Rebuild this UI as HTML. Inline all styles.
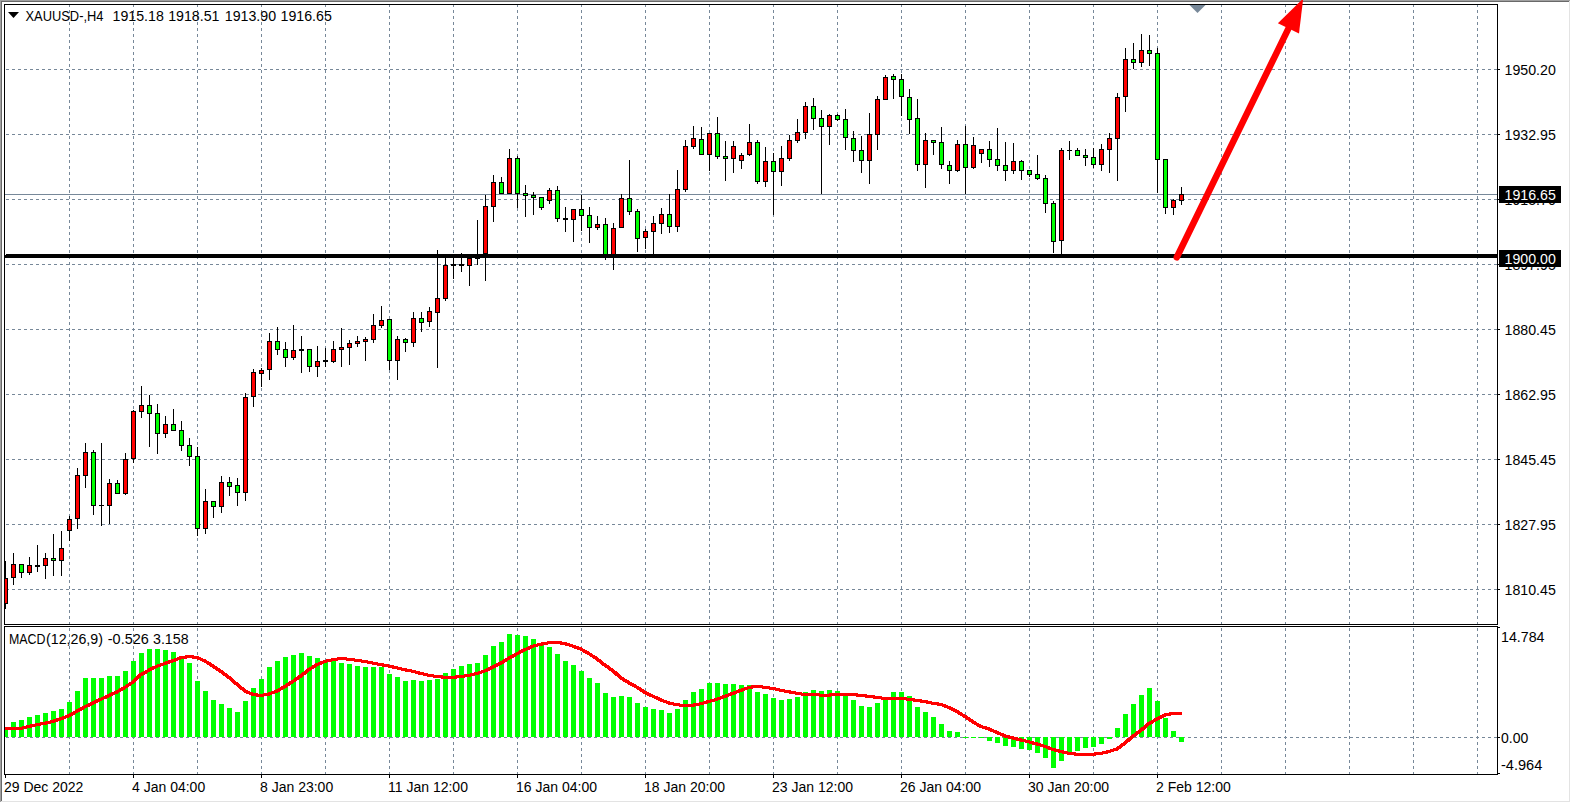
<!DOCTYPE html><html><head><meta charset="utf-8"><title>XAUUSD H4</title>
<style>html,body{margin:0;padding:0;background:#fff;overflow:hidden}svg{display:block}text{font-family:"Liberation Sans",sans-serif;}</style></head><body>
<svg width="1571" height="803" viewBox="0 0 1571 803">
<defs><clipPath id="cm"><rect x="5" y="5" width="1492" height="619"/></clipPath><clipPath id="cs"><rect x="5" y="627" width="1492" height="147"/></clipPath></defs>
<rect x="0" y="0" width="1571" height="803" fill="#fff"/>
<g shape-rendering="crispEdges" clip-path="url(#cm)">
<line x1="0" y1="69.5" x2="1497" y2="69.5" stroke="#778899" stroke-width="1" stroke-dasharray="3 3"/>
<line x1="0" y1="134.5" x2="1497" y2="134.5" stroke="#778899" stroke-width="1" stroke-dasharray="3 3"/>
<line x1="0" y1="199.5" x2="1497" y2="199.5" stroke="#778899" stroke-width="1" stroke-dasharray="3 3"/>
<line x1="0" y1="264.5" x2="1497" y2="264.5" stroke="#778899" stroke-width="1" stroke-dasharray="3 3"/>
<line x1="0" y1="329.5" x2="1497" y2="329.5" stroke="#778899" stroke-width="1" stroke-dasharray="3 3"/>
<line x1="0" y1="394.5" x2="1497" y2="394.5" stroke="#778899" stroke-width="1" stroke-dasharray="3 3"/>
<line x1="0" y1="459.5" x2="1497" y2="459.5" stroke="#778899" stroke-width="1" stroke-dasharray="3 3"/>
<line x1="0" y1="524.5" x2="1497" y2="524.5" stroke="#778899" stroke-width="1" stroke-dasharray="3 3"/>
<line x1="0" y1="589.5" x2="1497" y2="589.5" stroke="#778899" stroke-width="1" stroke-dasharray="3 3"/>
<line x1="69.5" y1="4" x2="69.5" y2="624" stroke="#778899" stroke-width="1" stroke-dasharray="3 3"/>
<line x1="133.5" y1="4" x2="133.5" y2="624" stroke="#778899" stroke-width="1" stroke-dasharray="3 3"/>
<line x1="197.5" y1="4" x2="197.5" y2="624" stroke="#778899" stroke-width="1" stroke-dasharray="3 3"/>
<line x1="261.5" y1="4" x2="261.5" y2="624" stroke="#778899" stroke-width="1" stroke-dasharray="3 3"/>
<line x1="325.5" y1="4" x2="325.5" y2="624" stroke="#778899" stroke-width="1" stroke-dasharray="3 3"/>
<line x1="389.5" y1="4" x2="389.5" y2="624" stroke="#778899" stroke-width="1" stroke-dasharray="3 3"/>
<line x1="453.5" y1="4" x2="453.5" y2="624" stroke="#778899" stroke-width="1" stroke-dasharray="3 3"/>
<line x1="517.5" y1="4" x2="517.5" y2="624" stroke="#778899" stroke-width="1" stroke-dasharray="3 3"/>
<line x1="581.5" y1="4" x2="581.5" y2="624" stroke="#778899" stroke-width="1" stroke-dasharray="3 3"/>
<line x1="645.5" y1="4" x2="645.5" y2="624" stroke="#778899" stroke-width="1" stroke-dasharray="3 3"/>
<line x1="709.5" y1="4" x2="709.5" y2="624" stroke="#778899" stroke-width="1" stroke-dasharray="3 3"/>
<line x1="773.5" y1="4" x2="773.5" y2="624" stroke="#778899" stroke-width="1" stroke-dasharray="3 3"/>
<line x1="837.5" y1="4" x2="837.5" y2="624" stroke="#778899" stroke-width="1" stroke-dasharray="3 3"/>
<line x1="901.5" y1="4" x2="901.5" y2="624" stroke="#778899" stroke-width="1" stroke-dasharray="3 3"/>
<line x1="965.5" y1="4" x2="965.5" y2="624" stroke="#778899" stroke-width="1" stroke-dasharray="3 3"/>
<line x1="1029.5" y1="4" x2="1029.5" y2="624" stroke="#778899" stroke-width="1" stroke-dasharray="3 3"/>
<line x1="1093.5" y1="4" x2="1093.5" y2="624" stroke="#778899" stroke-width="1" stroke-dasharray="3 3"/>
<line x1="1157.5" y1="4" x2="1157.5" y2="624" stroke="#778899" stroke-width="1" stroke-dasharray="3 3"/>
<line x1="1221.5" y1="4" x2="1221.5" y2="624" stroke="#778899" stroke-width="1" stroke-dasharray="3 3"/>
<line x1="1285.5" y1="4" x2="1285.5" y2="624" stroke="#778899" stroke-width="1" stroke-dasharray="3 3"/>
<line x1="1349.5" y1="4" x2="1349.5" y2="624" stroke="#778899" stroke-width="1" stroke-dasharray="3 3"/>
<line x1="1413.5" y1="4" x2="1413.5" y2="624" stroke="#778899" stroke-width="1" stroke-dasharray="3 3"/>
<line x1="1477.5" y1="4" x2="1477.5" y2="624" stroke="#778899" stroke-width="1" stroke-dasharray="3 3"/>
<rect x="5" y="194" width="1492" height="1" fill="#778899"/>
</g>
<g shape-rendering="crispEdges" clip-path="url(#cs)">
<line x1="0" y1="737.5" x2="1497" y2="737.5" stroke="#778899" stroke-width="1" stroke-dasharray="3 3"/>
<line x1="69.5" y1="4" x2="69.5" y2="774" stroke="#778899" stroke-width="1" stroke-dasharray="3 3"/>
<line x1="133.5" y1="4" x2="133.5" y2="774" stroke="#778899" stroke-width="1" stroke-dasharray="3 3"/>
<line x1="197.5" y1="4" x2="197.5" y2="774" stroke="#778899" stroke-width="1" stroke-dasharray="3 3"/>
<line x1="261.5" y1="4" x2="261.5" y2="774" stroke="#778899" stroke-width="1" stroke-dasharray="3 3"/>
<line x1="325.5" y1="4" x2="325.5" y2="774" stroke="#778899" stroke-width="1" stroke-dasharray="3 3"/>
<line x1="389.5" y1="4" x2="389.5" y2="774" stroke="#778899" stroke-width="1" stroke-dasharray="3 3"/>
<line x1="453.5" y1="4" x2="453.5" y2="774" stroke="#778899" stroke-width="1" stroke-dasharray="3 3"/>
<line x1="517.5" y1="4" x2="517.5" y2="774" stroke="#778899" stroke-width="1" stroke-dasharray="3 3"/>
<line x1="581.5" y1="4" x2="581.5" y2="774" stroke="#778899" stroke-width="1" stroke-dasharray="3 3"/>
<line x1="645.5" y1="4" x2="645.5" y2="774" stroke="#778899" stroke-width="1" stroke-dasharray="3 3"/>
<line x1="709.5" y1="4" x2="709.5" y2="774" stroke="#778899" stroke-width="1" stroke-dasharray="3 3"/>
<line x1="773.5" y1="4" x2="773.5" y2="774" stroke="#778899" stroke-width="1" stroke-dasharray="3 3"/>
<line x1="837.5" y1="4" x2="837.5" y2="774" stroke="#778899" stroke-width="1" stroke-dasharray="3 3"/>
<line x1="901.5" y1="4" x2="901.5" y2="774" stroke="#778899" stroke-width="1" stroke-dasharray="3 3"/>
<line x1="965.5" y1="4" x2="965.5" y2="774" stroke="#778899" stroke-width="1" stroke-dasharray="3 3"/>
<line x1="1029.5" y1="4" x2="1029.5" y2="774" stroke="#778899" stroke-width="1" stroke-dasharray="3 3"/>
<line x1="1093.5" y1="4" x2="1093.5" y2="774" stroke="#778899" stroke-width="1" stroke-dasharray="3 3"/>
<line x1="1157.5" y1="4" x2="1157.5" y2="774" stroke="#778899" stroke-width="1" stroke-dasharray="3 3"/>
<line x1="1221.5" y1="4" x2="1221.5" y2="774" stroke="#778899" stroke-width="1" stroke-dasharray="3 3"/>
<line x1="1285.5" y1="4" x2="1285.5" y2="774" stroke="#778899" stroke-width="1" stroke-dasharray="3 3"/>
<line x1="1349.5" y1="4" x2="1349.5" y2="774" stroke="#778899" stroke-width="1" stroke-dasharray="3 3"/>
<line x1="1413.5" y1="4" x2="1413.5" y2="774" stroke="#778899" stroke-width="1" stroke-dasharray="3 3"/>
<line x1="1477.5" y1="4" x2="1477.5" y2="774" stroke="#778899" stroke-width="1" stroke-dasharray="3 3"/>
</g>
<g shape-rendering="crispEdges" clip-path="url(#cm)">
<rect x="5" y="561" width="1" height="48" fill="#000"/>
<rect x="3" y="578" width="5" height="26" fill="#000"/>
<rect x="4" y="579" width="3" height="24" fill="#ff0000"/>
<rect x="13" y="553" width="1" height="32" fill="#000"/>
<rect x="11" y="564" width="5" height="14" fill="#000"/>
<rect x="12" y="565" width="3" height="12" fill="#ff0000"/>
<rect x="21" y="564" width="1" height="14" fill="#000"/>
<rect x="19" y="564" width="5" height="9" fill="#000"/>
<rect x="20" y="565" width="3" height="7" fill="#00ff00"/>
<rect x="29" y="557" width="1" height="18" fill="#000"/>
<rect x="27" y="565" width="5" height="8" fill="#000"/>
<rect x="28" y="566" width="3" height="6" fill="#ff0000"/>
<rect x="37" y="545" width="1" height="27" fill="#000"/>
<rect x="35" y="565" width="5" height="2" fill="#000"/>
<rect x="45" y="553" width="1" height="26" fill="#000"/>
<rect x="43" y="558" width="5" height="8" fill="#000"/>
<rect x="44" y="559" width="3" height="6" fill="#ff0000"/>
<rect x="53" y="534" width="1" height="42" fill="#000"/>
<rect x="51" y="558" width="5" height="3" fill="#000"/>
<rect x="52" y="559" width="3" height="1" fill="#00ff00"/>
<rect x="61" y="531" width="1" height="45" fill="#000"/>
<rect x="59" y="548" width="5" height="13" fill="#000"/>
<rect x="60" y="549" width="3" height="11" fill="#ff0000"/>
<rect x="69" y="516" width="1" height="25" fill="#000"/>
<rect x="67" y="519" width="5" height="12" fill="#000"/>
<rect x="68" y="520" width="3" height="10" fill="#ff0000"/>
<rect x="77" y="468" width="1" height="61" fill="#000"/>
<rect x="75" y="475" width="5" height="44" fill="#000"/>
<rect x="76" y="476" width="3" height="42" fill="#ff0000"/>
<rect x="85" y="443" width="1" height="45" fill="#000"/>
<rect x="83" y="452" width="5" height="24" fill="#000"/>
<rect x="84" y="453" width="3" height="22" fill="#ff0000"/>
<rect x="93" y="450" width="1" height="65" fill="#000"/>
<rect x="91" y="452" width="5" height="54" fill="#000"/>
<rect x="92" y="453" width="3" height="52" fill="#00ff00"/>
<rect x="101" y="443" width="1" height="83" fill="#000"/>
<rect x="99" y="505" width="5" height="1" fill="#000"/>
<rect x="109" y="479" width="1" height="45" fill="#000"/>
<rect x="107" y="483" width="5" height="23" fill="#000"/>
<rect x="108" y="484" width="3" height="21" fill="#ff0000"/>
<rect x="117" y="480" width="1" height="14" fill="#000"/>
<rect x="115" y="483" width="5" height="11" fill="#000"/>
<rect x="116" y="484" width="3" height="9" fill="#00ff00"/>
<rect x="125" y="453" width="1" height="42" fill="#000"/>
<rect x="123" y="459" width="5" height="35" fill="#000"/>
<rect x="124" y="460" width="3" height="33" fill="#ff0000"/>
<rect x="133" y="410" width="1" height="53" fill="#000"/>
<rect x="131" y="411" width="5" height="48" fill="#000"/>
<rect x="132" y="412" width="3" height="46" fill="#ff0000"/>
<rect x="141" y="386" width="1" height="32" fill="#000"/>
<rect x="139" y="405" width="5" height="7" fill="#000"/>
<rect x="140" y="406" width="3" height="5" fill="#ff0000"/>
<rect x="149" y="395" width="1" height="52" fill="#000"/>
<rect x="147" y="405" width="5" height="9" fill="#000"/>
<rect x="148" y="406" width="3" height="7" fill="#00ff00"/>
<rect x="157" y="404" width="1" height="50" fill="#000"/>
<rect x="155" y="413" width="5" height="21" fill="#000"/>
<rect x="156" y="414" width="3" height="19" fill="#00ff00"/>
<rect x="165" y="416" width="1" height="22" fill="#000"/>
<rect x="163" y="424" width="5" height="10" fill="#000"/>
<rect x="164" y="425" width="3" height="8" fill="#ff0000"/>
<rect x="173" y="409" width="1" height="22" fill="#000"/>
<rect x="171" y="424" width="5" height="7" fill="#000"/>
<rect x="172" y="425" width="3" height="5" fill="#00ff00"/>
<rect x="181" y="421" width="1" height="30" fill="#000"/>
<rect x="179" y="430" width="5" height="16" fill="#000"/>
<rect x="180" y="431" width="3" height="14" fill="#00ff00"/>
<rect x="189" y="438" width="1" height="28" fill="#000"/>
<rect x="187" y="445" width="5" height="12" fill="#000"/>
<rect x="188" y="446" width="3" height="10" fill="#00ff00"/>
<rect x="197" y="447" width="1" height="89" fill="#000"/>
<rect x="195" y="456" width="5" height="73" fill="#000"/>
<rect x="196" y="457" width="3" height="71" fill="#00ff00"/>
<rect x="205" y="489" width="1" height="45" fill="#000"/>
<rect x="203" y="501" width="5" height="28" fill="#000"/>
<rect x="204" y="502" width="3" height="26" fill="#ff0000"/>
<rect x="213" y="501" width="1" height="17" fill="#000"/>
<rect x="211" y="501" width="5" height="6" fill="#000"/>
<rect x="212" y="502" width="3" height="4" fill="#00ff00"/>
<rect x="221" y="476" width="1" height="37" fill="#000"/>
<rect x="219" y="482" width="5" height="25" fill="#000"/>
<rect x="220" y="483" width="3" height="23" fill="#ff0000"/>
<rect x="229" y="477" width="1" height="19" fill="#000"/>
<rect x="227" y="482" width="5" height="5" fill="#000"/>
<rect x="228" y="483" width="3" height="3" fill="#00ff00"/>
<rect x="237" y="478" width="1" height="28" fill="#000"/>
<rect x="235" y="485" width="5" height="8" fill="#000"/>
<rect x="236" y="486" width="3" height="6" fill="#00ff00"/>
<rect x="245" y="393" width="1" height="108" fill="#000"/>
<rect x="243" y="397" width="5" height="96" fill="#000"/>
<rect x="244" y="398" width="3" height="94" fill="#ff0000"/>
<rect x="253" y="369" width="1" height="38" fill="#000"/>
<rect x="251" y="372" width="5" height="25" fill="#000"/>
<rect x="252" y="373" width="3" height="23" fill="#ff0000"/>
<rect x="261" y="368" width="1" height="19" fill="#000"/>
<rect x="259" y="370" width="5" height="4" fill="#000"/>
<rect x="260" y="371" width="3" height="2" fill="#ff0000"/>
<rect x="269" y="333" width="1" height="47" fill="#000"/>
<rect x="267" y="341" width="5" height="29" fill="#000"/>
<rect x="268" y="342" width="3" height="27" fill="#ff0000"/>
<rect x="277" y="327" width="1" height="28" fill="#000"/>
<rect x="275" y="341" width="5" height="9" fill="#000"/>
<rect x="276" y="342" width="3" height="7" fill="#00ff00"/>
<rect x="285" y="342" width="1" height="25" fill="#000"/>
<rect x="283" y="349" width="5" height="9" fill="#000"/>
<rect x="284" y="350" width="3" height="7" fill="#00ff00"/>
<rect x="293" y="325" width="1" height="35" fill="#000"/>
<rect x="291" y="350" width="5" height="8" fill="#000"/>
<rect x="292" y="351" width="3" height="6" fill="#ff0000"/>
<rect x="301" y="336" width="1" height="37" fill="#000"/>
<rect x="299" y="349" width="5" height="2" fill="#000"/>
<rect x="309" y="349" width="1" height="23" fill="#000"/>
<rect x="307" y="349" width="5" height="18" fill="#000"/>
<rect x="308" y="350" width="3" height="16" fill="#00ff00"/>
<rect x="317" y="346" width="1" height="31" fill="#000"/>
<rect x="315" y="361" width="5" height="6" fill="#000"/>
<rect x="316" y="362" width="3" height="4" fill="#ff0000"/>
<rect x="325" y="348" width="1" height="19" fill="#000"/>
<rect x="323" y="360" width="5" height="2" fill="#000"/>
<rect x="333" y="341" width="1" height="22" fill="#000"/>
<rect x="331" y="349" width="5" height="13" fill="#000"/>
<rect x="332" y="350" width="3" height="11" fill="#ff0000"/>
<rect x="341" y="328" width="1" height="39" fill="#000"/>
<rect x="339" y="347" width="5" height="3" fill="#000"/>
<rect x="340" y="348" width="3" height="1" fill="#ff0000"/>
<rect x="349" y="340" width="1" height="25" fill="#000"/>
<rect x="347" y="343" width="5" height="5" fill="#000"/>
<rect x="348" y="344" width="3" height="3" fill="#ff0000"/>
<rect x="357" y="336" width="1" height="11" fill="#000"/>
<rect x="355" y="341" width="5" height="3" fill="#000"/>
<rect x="356" y="342" width="3" height="1" fill="#ff0000"/>
<rect x="365" y="337" width="1" height="24" fill="#000"/>
<rect x="363" y="339" width="5" height="3" fill="#000"/>
<rect x="364" y="340" width="3" height="1" fill="#ff0000"/>
<rect x="373" y="314" width="1" height="29" fill="#000"/>
<rect x="371" y="325" width="5" height="15" fill="#000"/>
<rect x="372" y="326" width="3" height="13" fill="#ff0000"/>
<rect x="381" y="306" width="1" height="22" fill="#000"/>
<rect x="379" y="320" width="5" height="6" fill="#000"/>
<rect x="380" y="321" width="3" height="4" fill="#ff0000"/>
<rect x="389" y="319" width="1" height="51" fill="#000"/>
<rect x="387" y="319" width="5" height="42" fill="#000"/>
<rect x="388" y="320" width="3" height="40" fill="#00ff00"/>
<rect x="397" y="336" width="1" height="44" fill="#000"/>
<rect x="395" y="339" width="5" height="22" fill="#000"/>
<rect x="396" y="340" width="3" height="20" fill="#ff0000"/>
<rect x="405" y="338" width="1" height="14" fill="#000"/>
<rect x="403" y="339" width="5" height="4" fill="#000"/>
<rect x="404" y="340" width="3" height="2" fill="#00ff00"/>
<rect x="413" y="312" width="1" height="35" fill="#000"/>
<rect x="411" y="318" width="5" height="25" fill="#000"/>
<rect x="412" y="319" width="3" height="23" fill="#ff0000"/>
<rect x="421" y="312" width="1" height="20" fill="#000"/>
<rect x="419" y="318" width="5" height="5" fill="#000"/>
<rect x="420" y="319" width="3" height="3" fill="#00ff00"/>
<rect x="429" y="307" width="1" height="20" fill="#000"/>
<rect x="427" y="311" width="5" height="11" fill="#000"/>
<rect x="428" y="312" width="3" height="9" fill="#ff0000"/>
<rect x="437" y="250" width="1" height="118" fill="#000"/>
<rect x="435" y="298" width="5" height="15" fill="#000"/>
<rect x="436" y="299" width="3" height="13" fill="#ff0000"/>
<rect x="445" y="256" width="1" height="45" fill="#000"/>
<rect x="443" y="265" width="5" height="34" fill="#000"/>
<rect x="444" y="266" width="3" height="32" fill="#ff0000"/>
<rect x="453" y="256" width="1" height="23" fill="#000"/>
<rect x="451" y="264" width="5" height="2" fill="#000"/>
<rect x="461" y="253" width="1" height="19" fill="#000"/>
<rect x="459" y="264" width="5" height="2" fill="#000"/>
<rect x="469" y="255" width="1" height="31" fill="#000"/>
<rect x="467" y="258" width="5" height="8" fill="#000"/>
<rect x="468" y="259" width="3" height="6" fill="#ff0000"/>
<rect x="477" y="220" width="1" height="45" fill="#000"/>
<rect x="475" y="257" width="5" height="2" fill="#000"/>
<rect x="485" y="195" width="1" height="86" fill="#000"/>
<rect x="483" y="206" width="5" height="48" fill="#000"/>
<rect x="484" y="207" width="3" height="46" fill="#ff0000"/>
<rect x="493" y="175" width="1" height="47" fill="#000"/>
<rect x="491" y="182" width="5" height="25" fill="#000"/>
<rect x="492" y="183" width="3" height="23" fill="#ff0000"/>
<rect x="501" y="177" width="1" height="17" fill="#000"/>
<rect x="499" y="182" width="5" height="12" fill="#000"/>
<rect x="500" y="183" width="3" height="10" fill="#00ff00"/>
<rect x="509" y="149" width="1" height="45" fill="#000"/>
<rect x="507" y="158" width="5" height="36" fill="#000"/>
<rect x="508" y="159" width="3" height="34" fill="#ff0000"/>
<rect x="517" y="156" width="1" height="52" fill="#000"/>
<rect x="515" y="158" width="5" height="36" fill="#000"/>
<rect x="516" y="159" width="3" height="34" fill="#00ff00"/>
<rect x="525" y="185" width="1" height="32" fill="#000"/>
<rect x="523" y="193" width="5" height="3" fill="#000"/>
<rect x="524" y="194" width="3" height="1" fill="#00ff00"/>
<rect x="533" y="192" width="1" height="23" fill="#000"/>
<rect x="531" y="195" width="5" height="3" fill="#000"/>
<rect x="532" y="196" width="3" height="1" fill="#00ff00"/>
<rect x="541" y="197" width="1" height="13" fill="#000"/>
<rect x="539" y="197" width="5" height="11" fill="#000"/>
<rect x="540" y="198" width="3" height="9" fill="#00ff00"/>
<rect x="549" y="188" width="1" height="16" fill="#000"/>
<rect x="547" y="190" width="5" height="11" fill="#000"/>
<rect x="548" y="191" width="3" height="9" fill="#ff0000"/>
<rect x="557" y="186" width="1" height="36" fill="#000"/>
<rect x="555" y="190" width="5" height="29" fill="#000"/>
<rect x="556" y="191" width="3" height="27" fill="#00ff00"/>
<rect x="565" y="207" width="1" height="25" fill="#000"/>
<rect x="563" y="218" width="5" height="2" fill="#000"/>
<rect x="573" y="209" width="1" height="33" fill="#000"/>
<rect x="571" y="209" width="5" height="11" fill="#000"/>
<rect x="572" y="210" width="3" height="9" fill="#ff0000"/>
<rect x="581" y="195" width="1" height="36" fill="#000"/>
<rect x="579" y="209" width="5" height="7" fill="#000"/>
<rect x="580" y="210" width="3" height="5" fill="#00ff00"/>
<rect x="589" y="207" width="1" height="36" fill="#000"/>
<rect x="587" y="215" width="5" height="13" fill="#000"/>
<rect x="588" y="216" width="3" height="11" fill="#00ff00"/>
<rect x="597" y="216" width="1" height="14" fill="#000"/>
<rect x="595" y="224" width="5" height="4" fill="#000"/>
<rect x="596" y="225" width="3" height="2" fill="#ff0000"/>
<rect x="605" y="218" width="1" height="42" fill="#000"/>
<rect x="603" y="224" width="5" height="32" fill="#000"/>
<rect x="604" y="225" width="3" height="30" fill="#00ff00"/>
<rect x="613" y="223" width="1" height="47" fill="#000"/>
<rect x="611" y="228" width="5" height="28" fill="#000"/>
<rect x="612" y="229" width="3" height="26" fill="#ff0000"/>
<rect x="621" y="194" width="1" height="34" fill="#000"/>
<rect x="619" y="198" width="5" height="30" fill="#000"/>
<rect x="620" y="199" width="3" height="28" fill="#ff0000"/>
<rect x="629" y="160" width="1" height="55" fill="#000"/>
<rect x="627" y="198" width="5" height="14" fill="#000"/>
<rect x="628" y="199" width="3" height="12" fill="#00ff00"/>
<rect x="637" y="209" width="1" height="43" fill="#000"/>
<rect x="635" y="211" width="5" height="28" fill="#000"/>
<rect x="636" y="212" width="3" height="26" fill="#00ff00"/>
<rect x="645" y="229" width="1" height="20" fill="#000"/>
<rect x="643" y="231" width="5" height="7" fill="#000"/>
<rect x="644" y="232" width="3" height="5" fill="#ff0000"/>
<rect x="653" y="216" width="1" height="38" fill="#000"/>
<rect x="651" y="223" width="5" height="9" fill="#000"/>
<rect x="652" y="224" width="3" height="7" fill="#ff0000"/>
<rect x="661" y="208" width="1" height="26" fill="#000"/>
<rect x="659" y="214" width="5" height="10" fill="#000"/>
<rect x="660" y="215" width="3" height="8" fill="#ff0000"/>
<rect x="669" y="194" width="1" height="39" fill="#000"/>
<rect x="667" y="214" width="5" height="13" fill="#000"/>
<rect x="668" y="215" width="3" height="11" fill="#00ff00"/>
<rect x="677" y="170" width="1" height="62" fill="#000"/>
<rect x="675" y="189" width="5" height="38" fill="#000"/>
<rect x="676" y="190" width="3" height="36" fill="#ff0000"/>
<rect x="685" y="140" width="1" height="52" fill="#000"/>
<rect x="683" y="146" width="5" height="44" fill="#000"/>
<rect x="684" y="147" width="3" height="42" fill="#ff0000"/>
<rect x="693" y="126" width="1" height="23" fill="#000"/>
<rect x="691" y="138" width="5" height="9" fill="#000"/>
<rect x="692" y="139" width="3" height="7" fill="#ff0000"/>
<rect x="701" y="127" width="1" height="28" fill="#000"/>
<rect x="699" y="139" width="5" height="16" fill="#000"/>
<rect x="700" y="140" width="3" height="14" fill="#00ff00"/>
<rect x="709" y="133" width="1" height="38" fill="#000"/>
<rect x="707" y="133" width="5" height="22" fill="#000"/>
<rect x="708" y="134" width="3" height="20" fill="#ff0000"/>
<rect x="717" y="117" width="1" height="42" fill="#000"/>
<rect x="715" y="133" width="5" height="24" fill="#000"/>
<rect x="716" y="134" width="3" height="22" fill="#00ff00"/>
<rect x="725" y="141" width="1" height="40" fill="#000"/>
<rect x="723" y="156" width="5" height="3" fill="#000"/>
<rect x="724" y="157" width="3" height="1" fill="#00ff00"/>
<rect x="733" y="141" width="1" height="32" fill="#000"/>
<rect x="731" y="146" width="5" height="13" fill="#000"/>
<rect x="732" y="147" width="3" height="11" fill="#ff0000"/>
<rect x="741" y="153" width="1" height="16" fill="#000"/>
<rect x="739" y="155" width="5" height="6" fill="#000"/>
<rect x="740" y="156" width="3" height="4" fill="#ff0000"/>
<rect x="749" y="124" width="1" height="32" fill="#000"/>
<rect x="747" y="142" width="5" height="13" fill="#000"/>
<rect x="748" y="143" width="3" height="11" fill="#ff0000"/>
<rect x="757" y="140" width="1" height="44" fill="#000"/>
<rect x="755" y="142" width="5" height="40" fill="#000"/>
<rect x="756" y="143" width="3" height="38" fill="#00ff00"/>
<rect x="765" y="147" width="1" height="40" fill="#000"/>
<rect x="763" y="161" width="5" height="21" fill="#000"/>
<rect x="764" y="162" width="3" height="19" fill="#ff0000"/>
<rect x="773" y="153" width="1" height="62" fill="#000"/>
<rect x="771" y="161" width="5" height="11" fill="#000"/>
<rect x="772" y="162" width="3" height="9" fill="#00ff00"/>
<rect x="781" y="146" width="1" height="40" fill="#000"/>
<rect x="779" y="158" width="5" height="14" fill="#000"/>
<rect x="780" y="159" width="3" height="12" fill="#ff0000"/>
<rect x="789" y="135" width="1" height="26" fill="#000"/>
<rect x="787" y="140" width="5" height="19" fill="#000"/>
<rect x="788" y="141" width="3" height="17" fill="#ff0000"/>
<rect x="797" y="119" width="1" height="24" fill="#000"/>
<rect x="795" y="132" width="5" height="9" fill="#000"/>
<rect x="796" y="133" width="3" height="7" fill="#ff0000"/>
<rect x="805" y="102" width="1" height="37" fill="#000"/>
<rect x="803" y="106" width="5" height="27" fill="#000"/>
<rect x="804" y="107" width="3" height="25" fill="#ff0000"/>
<rect x="813" y="98" width="1" height="32" fill="#000"/>
<rect x="811" y="106" width="5" height="13" fill="#000"/>
<rect x="812" y="107" width="3" height="11" fill="#00ff00"/>
<rect x="821" y="110" width="1" height="84" fill="#000"/>
<rect x="819" y="118" width="5" height="9" fill="#000"/>
<rect x="820" y="119" width="3" height="7" fill="#00ff00"/>
<rect x="829" y="114" width="1" height="31" fill="#000"/>
<rect x="827" y="115" width="5" height="12" fill="#000"/>
<rect x="828" y="116" width="3" height="10" fill="#ff0000"/>
<rect x="837" y="114" width="1" height="7" fill="#000"/>
<rect x="835" y="115" width="5" height="5" fill="#000"/>
<rect x="836" y="116" width="3" height="3" fill="#00ff00"/>
<rect x="845" y="109" width="1" height="41" fill="#000"/>
<rect x="843" y="119" width="5" height="19" fill="#000"/>
<rect x="844" y="120" width="3" height="17" fill="#00ff00"/>
<rect x="853" y="131" width="1" height="31" fill="#000"/>
<rect x="851" y="138" width="5" height="13" fill="#000"/>
<rect x="852" y="139" width="3" height="11" fill="#00ff00"/>
<rect x="861" y="136" width="1" height="37" fill="#000"/>
<rect x="859" y="150" width="5" height="11" fill="#000"/>
<rect x="860" y="151" width="3" height="9" fill="#00ff00"/>
<rect x="869" y="113" width="1" height="71" fill="#000"/>
<rect x="867" y="134" width="5" height="27" fill="#000"/>
<rect x="868" y="135" width="3" height="25" fill="#ff0000"/>
<rect x="877" y="96" width="1" height="54" fill="#000"/>
<rect x="875" y="99" width="5" height="36" fill="#000"/>
<rect x="876" y="100" width="3" height="34" fill="#ff0000"/>
<rect x="885" y="75" width="1" height="24" fill="#000"/>
<rect x="883" y="77" width="5" height="23" fill="#000"/>
<rect x="884" y="78" width="3" height="21" fill="#ff0000"/>
<rect x="893" y="74" width="1" height="25" fill="#000"/>
<rect x="891" y="76" width="5" height="4" fill="#000"/>
<rect x="892" y="77" width="3" height="2" fill="#00ff00"/>
<rect x="901" y="74" width="1" height="42" fill="#000"/>
<rect x="899" y="79" width="5" height="18" fill="#000"/>
<rect x="900" y="80" width="3" height="16" fill="#00ff00"/>
<rect x="909" y="89" width="1" height="45" fill="#000"/>
<rect x="907" y="97" width="5" height="23" fill="#000"/>
<rect x="908" y="98" width="3" height="21" fill="#00ff00"/>
<rect x="917" y="99" width="1" height="72" fill="#000"/>
<rect x="915" y="118" width="5" height="47" fill="#000"/>
<rect x="916" y="119" width="3" height="45" fill="#00ff00"/>
<rect x="925" y="133" width="1" height="55" fill="#000"/>
<rect x="923" y="140" width="5" height="25" fill="#000"/>
<rect x="924" y="141" width="3" height="23" fill="#ff0000"/>
<rect x="933" y="140" width="1" height="15" fill="#000"/>
<rect x="931" y="140" width="5" height="3" fill="#000"/>
<rect x="932" y="141" width="3" height="1" fill="#00ff00"/>
<rect x="941" y="127" width="1" height="42" fill="#000"/>
<rect x="939" y="142" width="5" height="23" fill="#000"/>
<rect x="940" y="143" width="3" height="21" fill="#00ff00"/>
<rect x="949" y="161" width="1" height="23" fill="#000"/>
<rect x="947" y="165" width="5" height="6" fill="#000"/>
<rect x="948" y="166" width="3" height="4" fill="#00ff00"/>
<rect x="957" y="140" width="1" height="32" fill="#000"/>
<rect x="955" y="144" width="5" height="27" fill="#000"/>
<rect x="956" y="145" width="3" height="25" fill="#ff0000"/>
<rect x="965" y="126" width="1" height="68" fill="#000"/>
<rect x="963" y="144" width="5" height="24" fill="#000"/>
<rect x="964" y="145" width="3" height="22" fill="#00ff00"/>
<rect x="973" y="137" width="1" height="32" fill="#000"/>
<rect x="971" y="145" width="5" height="23" fill="#000"/>
<rect x="972" y="146" width="3" height="21" fill="#ff0000"/>
<rect x="981" y="149" width="1" height="14" fill="#000"/>
<rect x="979" y="149" width="5" height="5" fill="#000"/>
<rect x="980" y="150" width="3" height="3" fill="#ff0000"/>
<rect x="989" y="141" width="1" height="26" fill="#000"/>
<rect x="987" y="149" width="5" height="11" fill="#000"/>
<rect x="988" y="150" width="3" height="9" fill="#00ff00"/>
<rect x="997" y="128" width="1" height="43" fill="#000"/>
<rect x="995" y="159" width="5" height="7" fill="#000"/>
<rect x="996" y="160" width="3" height="5" fill="#00ff00"/>
<rect x="1005" y="142" width="1" height="39" fill="#000"/>
<rect x="1003" y="165" width="5" height="6" fill="#000"/>
<rect x="1004" y="166" width="3" height="4" fill="#00ff00"/>
<rect x="1013" y="143" width="1" height="31" fill="#000"/>
<rect x="1011" y="161" width="5" height="10" fill="#000"/>
<rect x="1012" y="162" width="3" height="8" fill="#ff0000"/>
<rect x="1021" y="160" width="1" height="20" fill="#000"/>
<rect x="1019" y="161" width="5" height="10" fill="#000"/>
<rect x="1020" y="162" width="3" height="8" fill="#00ff00"/>
<rect x="1029" y="170" width="1" height="7" fill="#000"/>
<rect x="1027" y="170" width="5" height="5" fill="#000"/>
<rect x="1028" y="171" width="3" height="3" fill="#00ff00"/>
<rect x="1037" y="155" width="1" height="25" fill="#000"/>
<rect x="1035" y="174" width="5" height="5" fill="#000"/>
<rect x="1036" y="175" width="3" height="3" fill="#00ff00"/>
<rect x="1045" y="175" width="1" height="38" fill="#000"/>
<rect x="1043" y="178" width="5" height="26" fill="#000"/>
<rect x="1044" y="179" width="3" height="24" fill="#00ff00"/>
<rect x="1053" y="201" width="1" height="52" fill="#000"/>
<rect x="1051" y="203" width="5" height="39" fill="#000"/>
<rect x="1052" y="204" width="3" height="37" fill="#00ff00"/>
<rect x="1061" y="148" width="1" height="107" fill="#000"/>
<rect x="1059" y="150" width="5" height="91" fill="#000"/>
<rect x="1060" y="151" width="3" height="89" fill="#ff0000"/>
<rect x="1069" y="141" width="1" height="19" fill="#000"/>
<rect x="1067" y="150" width="5" height="1" fill="#000"/>
<rect x="1077" y="148" width="1" height="8" fill="#000"/>
<rect x="1075" y="150" width="5" height="6" fill="#000"/>
<rect x="1076" y="151" width="3" height="4" fill="#00ff00"/>
<rect x="1085" y="149" width="1" height="17" fill="#000"/>
<rect x="1083" y="155" width="5" height="3" fill="#000"/>
<rect x="1084" y="156" width="3" height="1" fill="#00ff00"/>
<rect x="1093" y="148" width="1" height="20" fill="#000"/>
<rect x="1091" y="157" width="5" height="8" fill="#000"/>
<rect x="1092" y="158" width="3" height="6" fill="#00ff00"/>
<rect x="1101" y="144" width="1" height="27" fill="#000"/>
<rect x="1099" y="149" width="5" height="16" fill="#000"/>
<rect x="1100" y="150" width="3" height="14" fill="#ff0000"/>
<rect x="1109" y="133" width="1" height="40" fill="#000"/>
<rect x="1107" y="138" width="5" height="12" fill="#000"/>
<rect x="1108" y="139" width="3" height="10" fill="#ff0000"/>
<rect x="1117" y="93" width="1" height="88" fill="#000"/>
<rect x="1115" y="97" width="5" height="42" fill="#000"/>
<rect x="1116" y="98" width="3" height="40" fill="#ff0000"/>
<rect x="1125" y="48" width="1" height="64" fill="#000"/>
<rect x="1123" y="59" width="5" height="38" fill="#000"/>
<rect x="1124" y="60" width="3" height="36" fill="#ff0000"/>
<rect x="1133" y="43" width="1" height="26" fill="#000"/>
<rect x="1131" y="59" width="5" height="4" fill="#000"/>
<rect x="1132" y="60" width="3" height="2" fill="#00ff00"/>
<rect x="1141" y="34" width="1" height="33" fill="#000"/>
<rect x="1139" y="50" width="5" height="13" fill="#000"/>
<rect x="1140" y="51" width="3" height="11" fill="#ff0000"/>
<rect x="1149" y="35" width="1" height="31" fill="#000"/>
<rect x="1147" y="50" width="5" height="4" fill="#000"/>
<rect x="1148" y="51" width="3" height="2" fill="#00ff00"/>
<rect x="1157" y="48" width="1" height="145" fill="#000"/>
<rect x="1155" y="53" width="5" height="107" fill="#000"/>
<rect x="1156" y="54" width="3" height="105" fill="#00ff00"/>
<rect x="1165" y="159" width="1" height="55" fill="#000"/>
<rect x="1163" y="159" width="5" height="49" fill="#000"/>
<rect x="1164" y="160" width="3" height="47" fill="#00ff00"/>
<rect x="1173" y="199" width="1" height="16" fill="#000"/>
<rect x="1171" y="200" width="5" height="8" fill="#000"/>
<rect x="1172" y="201" width="3" height="6" fill="#ff0000"/>
<rect x="1181" y="187" width="1" height="18" fill="#000"/>
<rect x="1179" y="194" width="5" height="7" fill="#000"/>
<rect x="1180" y="195" width="3" height="5" fill="#ff0000"/>
<rect x="6" y="254" width="1491" height="4" fill="#000"/>
<rect x="5" y="255" width="1" height="3" fill="#000"/>
</g>
<g shape-rendering="crispEdges" clip-path="url(#cs)" fill="#00ff00">
<rect x="3" y="729" width="5" height="8"/>
<rect x="11" y="722" width="5" height="15"/>
<rect x="19" y="720" width="5" height="17"/>
<rect x="27" y="717" width="5" height="20"/>
<rect x="35" y="715" width="5" height="22"/>
<rect x="43" y="713" width="5" height="24"/>
<rect x="51" y="711" width="5" height="26"/>
<rect x="59" y="709" width="5" height="28"/>
<rect x="67" y="702" width="5" height="35"/>
<rect x="75" y="691" width="5" height="46"/>
<rect x="83" y="678" width="5" height="59"/>
<rect x="91" y="678" width="5" height="59"/>
<rect x="99" y="678" width="5" height="59"/>
<rect x="107" y="676" width="5" height="61"/>
<rect x="115" y="676" width="5" height="61"/>
<rect x="123" y="671" width="5" height="66"/>
<rect x="131" y="661" width="5" height="76"/>
<rect x="139" y="653" width="5" height="84"/>
<rect x="147" y="649" width="5" height="88"/>
<rect x="155" y="649" width="5" height="88"/>
<rect x="163" y="650" width="5" height="87"/>
<rect x="171" y="652" width="5" height="85"/>
<rect x="179" y="659" width="5" height="78"/>
<rect x="187" y="663" width="5" height="74"/>
<rect x="195" y="681" width="5" height="56"/>
<rect x="203" y="691" width="5" height="46"/>
<rect x="211" y="700" width="5" height="37"/>
<rect x="219" y="704" width="5" height="33"/>
<rect x="227" y="708" width="5" height="29"/>
<rect x="235" y="712" width="5" height="25"/>
<rect x="243" y="701" width="5" height="36"/>
<rect x="251" y="688" width="5" height="49"/>
<rect x="259" y="679" width="5" height="58"/>
<rect x="267" y="667" width="5" height="70"/>
<rect x="275" y="661" width="5" height="76"/>
<rect x="283" y="657" width="5" height="80"/>
<rect x="291" y="655" width="5" height="82"/>
<rect x="299" y="653" width="5" height="84"/>
<rect x="307" y="656" width="5" height="81"/>
<rect x="315" y="658" width="5" height="79"/>
<rect x="323" y="662" width="5" height="75"/>
<rect x="331" y="661" width="5" height="76"/>
<rect x="339" y="663" width="5" height="74"/>
<rect x="347" y="664" width="5" height="73"/>
<rect x="355" y="666" width="5" height="71"/>
<rect x="363" y="667" width="5" height="70"/>
<rect x="371" y="667" width="5" height="70"/>
<rect x="379" y="667" width="5" height="70"/>
<rect x="387" y="674" width="5" height="63"/>
<rect x="395" y="677" width="5" height="60"/>
<rect x="403" y="681" width="5" height="56"/>
<rect x="411" y="680" width="5" height="57"/>
<rect x="419" y="681" width="5" height="56"/>
<rect x="427" y="680" width="5" height="57"/>
<rect x="435" y="679" width="5" height="58"/>
<rect x="443" y="673" width="5" height="64"/>
<rect x="451" y="669" width="5" height="68"/>
<rect x="459" y="666" width="5" height="71"/>
<rect x="467" y="664" width="5" height="73"/>
<rect x="475" y="663" width="5" height="74"/>
<rect x="483" y="655" width="5" height="82"/>
<rect x="491" y="646" width="5" height="91"/>
<rect x="499" y="642" width="5" height="95"/>
<rect x="507" y="634" width="5" height="103"/>
<rect x="515" y="635" width="5" height="102"/>
<rect x="523" y="636" width="5" height="101"/>
<rect x="531" y="639" width="5" height="98"/>
<rect x="539" y="644" width="5" height="93"/>
<rect x="547" y="647" width="5" height="90"/>
<rect x="555" y="654" width="5" height="83"/>
<rect x="563" y="661" width="5" height="76"/>
<rect x="571" y="665" width="5" height="72"/>
<rect x="579" y="671" width="5" height="66"/>
<rect x="587" y="678" width="5" height="59"/>
<rect x="595" y="683" width="5" height="54"/>
<rect x="603" y="693" width="5" height="44"/>
<rect x="611" y="697" width="5" height="40"/>
<rect x="619" y="696" width="5" height="41"/>
<rect x="627" y="697" width="5" height="40"/>
<rect x="635" y="703" width="5" height="34"/>
<rect x="643" y="707" width="5" height="30"/>
<rect x="651" y="709" width="5" height="28"/>
<rect x="659" y="710" width="5" height="27"/>
<rect x="667" y="713" width="5" height="24"/>
<rect x="675" y="709" width="5" height="28"/>
<rect x="683" y="700" width="5" height="37"/>
<rect x="691" y="692" width="5" height="45"/>
<rect x="699" y="689" width="5" height="48"/>
<rect x="707" y="683" width="5" height="54"/>
<rect x="715" y="683" width="5" height="54"/>
<rect x="723" y="684" width="5" height="53"/>
<rect x="731" y="684" width="5" height="53"/>
<rect x="739" y="685" width="5" height="52"/>
<rect x="747" y="685" width="5" height="52"/>
<rect x="755" y="692" width="5" height="45"/>
<rect x="763" y="694" width="5" height="43"/>
<rect x="771" y="698" width="5" height="39"/>
<rect x="779" y="700" width="5" height="37"/>
<rect x="787" y="699" width="5" height="38"/>
<rect x="795" y="697" width="5" height="40"/>
<rect x="803" y="692" width="5" height="45"/>
<rect x="811" y="690" width="5" height="47"/>
<rect x="819" y="691" width="5" height="46"/>
<rect x="827" y="690" width="5" height="47"/>
<rect x="835" y="691" width="5" height="46"/>
<rect x="843" y="695" width="5" height="42"/>
<rect x="851" y="700" width="5" height="37"/>
<rect x="859" y="706" width="5" height="31"/>
<rect x="867" y="707" width="5" height="30"/>
<rect x="875" y="703" width="5" height="34"/>
<rect x="883" y="699" width="5" height="38"/>
<rect x="891" y="692" width="5" height="45"/>
<rect x="899" y="692" width="5" height="45"/>
<rect x="907" y="696" width="5" height="41"/>
<rect x="915" y="707" width="5" height="30"/>
<rect x="923" y="712" width="5" height="25"/>
<rect x="931" y="717" width="5" height="20"/>
<rect x="939" y="724" width="5" height="13"/>
<rect x="947" y="731" width="5" height="6"/>
<rect x="955" y="732" width="5" height="5"/>
<rect x="963" y="737" width="5" height="1"/>
<rect x="971" y="737" width="5" height="1"/>
<rect x="979" y="737" width="5" height="1"/>
<rect x="987" y="737" width="5" height="4"/>
<rect x="995" y="737" width="5" height="6"/>
<rect x="1003" y="737" width="5" height="9"/>
<rect x="1011" y="737" width="5" height="10"/>
<rect x="1019" y="737" width="5" height="12"/>
<rect x="1027" y="737" width="5" height="13"/>
<rect x="1035" y="737" width="5" height="16"/>
<rect x="1043" y="737" width="5" height="21"/>
<rect x="1051" y="737" width="5" height="31"/>
<rect x="1059" y="737" width="5" height="24"/>
<rect x="1067" y="737" width="5" height="15"/>
<rect x="1075" y="737" width="5" height="14"/>
<rect x="1083" y="737" width="5" height="11"/>
<rect x="1091" y="737" width="5" height="10"/>
<rect x="1099" y="737" width="5" height="7"/>
<rect x="1107" y="737" width="5" height="2"/>
<rect x="1115" y="728" width="5" height="9"/>
<rect x="1123" y="714" width="5" height="23"/>
<rect x="1131" y="704" width="5" height="33"/>
<rect x="1139" y="695" width="5" height="42"/>
<rect x="1147" y="688" width="5" height="49"/>
<rect x="1155" y="701" width="5" height="36"/>
<rect x="1163" y="718" width="5" height="19"/>
<rect x="1171" y="731" width="5" height="6"/>
<rect x="1179" y="737" width="5" height="5"/>
</g>
<path d="M5 727h1v3h-1zM6 727h1v3h-1zM7 727h1v3h-1zM8 727h1v3h-1zM9 727h1v3h-1zM10 727h1v3h-1zM11 727h1v3h-1zM12 727h1v3h-1zM13 727h1v3h-1zM14 727h1v3h-1zM15 727h1v3h-1zM16 727h1v3h-1zM17 727h1v3h-1zM18 727h1v3h-1zM19 727h1v3h-1zM20 727h1v3h-1zM21 727h1v3h-1zM22 726h1v4h-1zM23 726h1v3h-1zM24 726h1v3h-1zM25 726h1v3h-1zM26 725h1v4h-1zM27 725h1v3h-1zM28 725h1v3h-1zM29 725h1v3h-1zM30 724h1v4h-1zM31 724h1v4h-1zM32 724h1v3h-1zM33 724h1v3h-1zM34 724h1v3h-1zM35 723h1v4h-1zM36 723h1v3h-1zM37 723h1v3h-1zM38 723h1v3h-1zM39 723h1v3h-1zM40 722h1v4h-1zM41 722h1v3h-1zM42 722h1v3h-1zM43 722h1v3h-1zM44 722h1v3h-1zM45 721h1v4h-1zM46 721h1v4h-1zM47 721h1v3h-1zM48 721h1v3h-1zM49 721h1v3h-1zM50 720h1v4h-1zM51 720h1v3h-1zM52 720h1v3h-1zM53 719h1v4h-1zM54 719h1v4h-1zM55 719h1v3h-1zM56 718h1v4h-1zM57 718h1v4h-1zM58 718h1v3h-1zM59 717h1v4h-1zM60 717h1v4h-1zM61 717h1v3h-1zM62 716h1v4h-1zM63 716h1v4h-1zM64 716h1v3h-1zM65 715h1v4h-1zM66 715h1v3h-1zM67 714h1v4h-1zM68 714h1v4h-1zM69 713h1v4h-1zM70 713h1v4h-1zM71 712h1v4h-1zM72 712h1v4h-1zM73 711h1v4h-1zM74 711h1v4h-1zM75 710h1v4h-1zM76 709h1v4h-1zM77 709h1v4h-1zM78 708h1v4h-1zM79 708h1v4h-1zM80 707h1v4h-1zM81 707h1v4h-1zM82 706h1v4h-1zM83 706h1v4h-1zM84 705h1v4h-1zM85 705h1v3h-1zM86 704h1v4h-1zM87 704h1v3h-1zM88 703h1v4h-1zM89 703h1v4h-1zM90 702h1v4h-1zM91 702h1v4h-1zM92 701h1v4h-1zM93 701h1v4h-1zM94 700h1v4h-1zM95 700h1v4h-1zM96 699h1v4h-1zM97 699h1v4h-1zM98 698h1v4h-1zM99 698h1v4h-1zM100 698h1v3h-1zM101 697h1v4h-1zM102 697h1v3h-1zM103 696h1v4h-1zM104 696h1v3h-1zM105 695h1v4h-1zM106 695h1v4h-1zM107 694h1v4h-1zM108 694h1v4h-1zM109 693h1v4h-1zM110 693h1v4h-1zM111 692h1v4h-1zM112 692h1v4h-1zM113 692h1v3h-1zM114 691h1v4h-1zM115 691h1v3h-1zM116 690h1v4h-1zM117 690h1v4h-1zM118 689h1v4h-1zM119 688h1v4h-1zM120 688h1v4h-1zM121 687h1v4h-1zM122 687h1v4h-1zM123 686h1v4h-1zM124 686h1v4h-1zM125 685h1v4h-1zM126 684h1v4h-1zM127 684h1v4h-1zM128 683h1v4h-1zM129 682h1v4h-1zM130 682h1v4h-1zM131 681h1v4h-1zM132 680h1v4h-1zM133 679h1v5h-1zM134 678h1v5h-1zM135 677h1v5h-1zM136 676h1v5h-1zM137 675h1v5h-1zM138 674h1v5h-1zM139 673h1v5h-1zM140 673h1v5h-1zM141 672h1v4h-1zM142 672h1v4h-1zM143 671h1v4h-1zM144 671h1v4h-1zM145 670h1v4h-1zM146 670h1v4h-1zM147 669h1v4h-1zM148 668h1v4h-1zM149 668h1v4h-1zM150 667h1v4h-1zM151 667h1v4h-1zM152 666h1v4h-1zM153 666h1v4h-1zM154 666h1v3h-1zM155 665h1v4h-1zM156 665h1v3h-1zM157 664h1v4h-1zM158 664h1v3h-1zM159 664h1v3h-1zM160 663h1v4h-1zM161 663h1v3h-1zM162 663h1v3h-1zM163 662h1v4h-1zM164 662h1v3h-1zM165 661h1v4h-1zM166 661h1v4h-1zM167 661h1v3h-1zM168 660h1v4h-1zM169 660h1v4h-1zM170 660h1v3h-1zM171 659h1v4h-1zM172 659h1v4h-1zM173 659h1v3h-1zM174 658h1v4h-1zM175 658h1v4h-1zM176 658h1v3h-1zM177 657h1v4h-1zM178 657h1v3h-1zM179 656h1v4h-1zM180 656h1v4h-1zM181 656h1v3h-1zM182 656h1v3h-1zM183 656h1v3h-1zM184 656h1v3h-1zM185 655h1v4h-1zM186 655h1v4h-1zM187 655h1v3h-1zM188 655h1v3h-1zM189 655h1v3h-1zM190 655h1v3h-1zM191 655h1v3h-1zM192 655h1v4h-1zM193 655h1v4h-1zM194 656h1v3h-1zM195 656h1v3h-1zM196 656h1v3h-1zM197 656h1v4h-1zM198 656h1v4h-1zM199 657h1v3h-1zM200 657h1v4h-1zM201 658h1v3h-1zM202 658h1v4h-1zM203 659h1v3h-1zM204 659h1v4h-1zM205 659h1v4h-1zM206 660h1v4h-1zM207 661h1v4h-1zM208 661h1v4h-1zM209 662h1v4h-1zM210 662h1v5h-1zM211 663h1v4h-1zM212 664h1v4h-1zM213 664h1v5h-1zM214 665h1v4h-1zM215 666h1v4h-1zM216 666h1v5h-1zM217 667h1v4h-1zM218 668h1v4h-1zM219 668h1v5h-1zM220 669h1v4h-1zM221 670h1v4h-1zM222 670h1v5h-1zM223 671h1v5h-1zM224 672h1v4h-1zM225 673h1v4h-1zM226 673h1v5h-1zM227 674h1v5h-1zM228 675h1v4h-1zM229 676h1v4h-1zM230 676h1v5h-1zM231 677h1v5h-1zM232 678h1v5h-1zM233 679h1v5h-1zM234 680h1v5h-1zM235 681h1v4h-1zM236 682h1v4h-1zM237 682h1v5h-1zM238 683h1v5h-1zM239 684h1v5h-1zM240 685h1v5h-1zM241 686h1v4h-1zM242 687h1v4h-1zM243 687h1v5h-1zM244 688h1v5h-1zM245 689h1v4h-1zM246 690h1v4h-1zM247 690h1v4h-1zM248 691h1v3h-1zM249 691h1v4h-1zM250 692h1v3h-1zM251 692h1v4h-1zM252 692h1v4h-1zM253 693h1v3h-1zM254 693h1v3h-1zM255 693h1v3h-1zM256 693h1v4h-1zM257 693h1v4h-1zM258 694h1v3h-1zM259 694h1v3h-1zM260 694h1v3h-1zM261 694h1v3h-1zM262 694h1v3h-1zM263 693h1v4h-1zM264 693h1v3h-1zM265 693h1v3h-1zM266 693h1v3h-1zM267 693h1v3h-1zM268 692h1v4h-1zM269 692h1v4h-1zM270 692h1v3h-1zM271 691h1v4h-1zM272 691h1v3h-1zM273 691h1v3h-1zM274 690h1v4h-1zM275 690h1v3h-1zM276 689h1v4h-1zM277 689h1v4h-1zM278 688h1v4h-1zM279 688h1v4h-1zM280 687h1v4h-1zM281 686h1v4h-1zM282 686h1v4h-1zM283 685h1v4h-1zM284 685h1v4h-1zM285 684h1v4h-1zM286 683h1v5h-1zM287 683h1v4h-1zM288 682h1v4h-1zM289 681h1v5h-1zM290 681h1v4h-1zM291 680h1v4h-1zM292 680h1v4h-1zM293 679h1v4h-1zM294 678h1v4h-1zM295 677h1v5h-1zM296 677h1v4h-1zM297 676h1v4h-1zM298 675h1v5h-1zM299 675h1v4h-1zM300 674h1v4h-1zM301 673h1v5h-1zM302 672h1v5h-1zM303 672h1v4h-1zM304 671h1v4h-1zM305 670h1v5h-1zM306 669h1v5h-1zM307 668h1v5h-1zM308 668h1v4h-1zM309 667h1v4h-1zM310 667h1v4h-1zM311 666h1v4h-1zM312 665h1v4h-1zM313 665h1v4h-1zM314 664h1v4h-1zM315 663h1v5h-1zM316 663h1v4h-1zM317 663h1v3h-1zM318 662h1v4h-1zM319 662h1v3h-1zM320 661h1v4h-1zM321 661h1v4h-1zM322 661h1v3h-1zM323 660h1v4h-1zM324 660h1v3h-1zM325 660h1v3h-1zM326 659h1v4h-1zM327 659h1v3h-1zM328 659h1v3h-1zM329 659h1v3h-1zM330 659h1v3h-1zM331 658h1v4h-1zM332 658h1v3h-1zM333 658h1v3h-1zM334 658h1v3h-1zM335 658h1v3h-1zM336 658h1v3h-1zM337 657h1v4h-1zM338 657h1v3h-1zM339 657h1v3h-1zM340 657h1v3h-1zM341 657h1v3h-1zM342 657h1v3h-1zM343 657h1v3h-1zM344 657h1v3h-1zM345 657h1v3h-1zM346 657h1v4h-1zM347 658h1v3h-1zM348 658h1v3h-1zM349 658h1v3h-1zM350 658h1v3h-1zM351 658h1v3h-1zM352 658h1v3h-1zM353 658h1v3h-1zM354 658h1v4h-1zM355 659h1v3h-1zM356 659h1v3h-1zM357 659h1v3h-1zM358 659h1v3h-1zM359 659h1v3h-1zM360 659h1v3h-1zM361 659h1v4h-1zM362 660h1v3h-1zM363 660h1v3h-1zM364 660h1v3h-1zM365 660h1v3h-1zM366 660h1v3h-1zM367 660h1v4h-1zM368 661h1v3h-1zM369 661h1v3h-1zM370 661h1v3h-1zM371 661h1v3h-1zM372 661h1v4h-1zM373 662h1v3h-1zM374 662h1v3h-1zM375 662h1v3h-1zM376 662h1v3h-1zM377 662h1v4h-1zM378 663h1v3h-1zM379 663h1v3h-1zM380 663h1v3h-1zM381 663h1v3h-1zM382 663h1v4h-1zM383 663h1v4h-1zM384 664h1v3h-1zM385 664h1v3h-1zM386 664h1v3h-1zM387 664h1v3h-1zM388 664h1v4h-1zM389 665h1v3h-1zM390 665h1v3h-1zM391 665h1v3h-1zM392 665h1v4h-1zM393 665h1v4h-1zM394 666h1v3h-1zM395 666h1v3h-1zM396 666h1v3h-1zM397 666h1v4h-1zM398 667h1v3h-1zM399 667h1v3h-1zM400 667h1v3h-1zM401 667h1v4h-1zM402 668h1v3h-1zM403 668h1v3h-1zM404 668h1v3h-1zM405 668h1v4h-1zM406 668h1v4h-1zM407 669h1v3h-1zM408 669h1v3h-1zM409 669h1v3h-1zM410 669h1v3h-1zM411 669h1v4h-1zM412 670h1v3h-1zM413 670h1v3h-1zM414 670h1v3h-1zM415 670h1v4h-1zM416 671h1v3h-1zM417 671h1v3h-1zM418 671h1v4h-1zM419 671h1v4h-1zM420 672h1v3h-1zM421 672h1v3h-1zM422 672h1v3h-1zM423 672h1v4h-1zM424 673h1v3h-1zM425 673h1v3h-1zM426 673h1v3h-1zM427 673h1v4h-1zM428 674h1v3h-1zM429 674h1v3h-1zM430 674h1v3h-1zM431 674h1v3h-1zM432 674h1v3h-1zM433 674h1v4h-1zM434 675h1v3h-1zM435 675h1v3h-1zM436 675h1v3h-1zM437 675h1v3h-1zM438 675h1v3h-1zM439 675h1v3h-1zM440 675h1v3h-1zM441 675h1v4h-1zM442 675h1v4h-1zM443 676h1v3h-1zM444 676h1v3h-1zM445 676h1v3h-1zM446 676h1v3h-1zM447 676h1v3h-1zM448 676h1v3h-1zM449 676h1v3h-1zM450 676h1v3h-1zM451 676h1v3h-1zM452 676h1v3h-1zM453 676h1v3h-1zM454 676h1v3h-1zM455 675h1v4h-1zM456 675h1v4h-1zM457 675h1v3h-1zM458 675h1v3h-1zM459 675h1v3h-1zM460 675h1v3h-1zM461 675h1v3h-1zM462 675h1v3h-1zM463 675h1v3h-1zM464 674h1v4h-1zM465 674h1v3h-1zM466 674h1v3h-1zM467 674h1v3h-1zM468 674h1v3h-1zM469 674h1v3h-1zM470 673h1v4h-1zM471 673h1v3h-1zM472 673h1v3h-1zM473 673h1v3h-1zM474 672h1v4h-1zM475 672h1v3h-1zM476 672h1v3h-1zM477 672h1v3h-1zM478 671h1v4h-1zM479 671h1v3h-1zM480 671h1v3h-1zM481 670h1v4h-1zM482 670h1v3h-1zM483 670h1v3h-1zM484 669h1v4h-1zM485 669h1v3h-1zM486 668h1v4h-1zM487 668h1v4h-1zM488 667h1v4h-1zM489 667h1v4h-1zM490 666h1v4h-1zM491 666h1v4h-1zM492 665h1v4h-1zM493 665h1v4h-1zM494 664h1v4h-1zM495 664h1v4h-1zM496 663h1v4h-1zM497 663h1v4h-1zM498 662h1v4h-1zM499 662h1v4h-1zM500 661h1v4h-1zM501 661h1v4h-1zM502 660h1v4h-1zM503 659h1v5h-1zM504 659h1v4h-1zM505 658h1v4h-1zM506 658h1v4h-1zM507 657h1v4h-1zM508 656h1v4h-1zM509 656h1v4h-1zM510 655h1v4h-1zM511 655h1v4h-1zM512 654h1v4h-1zM513 654h1v4h-1zM514 653h1v4h-1zM515 653h1v4h-1zM516 652h1v4h-1zM517 652h1v3h-1zM518 651h1v4h-1zM519 650h1v4h-1zM520 650h1v4h-1zM521 649h1v4h-1zM522 649h1v4h-1zM523 648h1v4h-1zM524 648h1v4h-1zM525 648h1v3h-1zM526 647h1v4h-1zM527 647h1v3h-1zM528 646h1v4h-1zM529 646h1v4h-1zM530 645h1v4h-1zM531 645h1v4h-1zM532 645h1v3h-1zM533 644h1v4h-1zM534 644h1v3h-1zM535 644h1v3h-1zM536 644h1v3h-1zM537 643h1v4h-1zM538 643h1v3h-1zM539 643h1v3h-1zM540 643h1v3h-1zM541 642h1v4h-1zM542 642h1v4h-1zM543 642h1v3h-1zM544 642h1v3h-1zM545 642h1v3h-1zM546 642h1v3h-1zM547 641h1v4h-1zM548 641h1v3h-1zM549 641h1v3h-1zM550 641h1v3h-1zM551 641h1v3h-1zM552 641h1v3h-1zM553 641h1v3h-1zM554 641h1v3h-1zM555 641h1v3h-1zM556 641h1v3h-1zM557 641h1v3h-1zM558 641h1v3h-1zM559 641h1v3h-1zM560 641h1v4h-1zM561 641h1v4h-1zM562 642h1v3h-1zM563 642h1v3h-1zM564 642h1v3h-1zM565 642h1v4h-1zM566 642h1v4h-1zM567 643h1v3h-1zM568 643h1v3h-1zM569 643h1v4h-1zM570 644h1v3h-1zM571 644h1v3h-1zM572 644h1v4h-1zM573 645h1v3h-1zM574 645h1v4h-1zM575 645h1v4h-1zM576 646h1v3h-1zM577 646h1v4h-1zM578 646h1v4h-1zM579 647h1v3h-1zM580 647h1v4h-1zM581 647h1v4h-1zM582 648h1v4h-1zM583 649h1v4h-1zM584 649h1v4h-1zM585 650h1v4h-1zM586 650h1v4h-1zM587 651h1v4h-1zM588 651h1v4h-1zM589 652h1v4h-1zM590 653h1v4h-1zM591 653h1v4h-1zM592 654h1v4h-1zM593 655h1v4h-1zM594 655h1v4h-1zM595 656h1v4h-1zM596 656h1v5h-1zM597 657h1v5h-1zM598 658h1v4h-1zM599 659h1v4h-1zM600 659h1v5h-1zM601 660h1v5h-1zM602 661h1v5h-1zM603 662h1v4h-1zM604 663h1v4h-1zM605 663h1v5h-1zM606 664h1v4h-1zM607 665h1v4h-1zM608 665h1v5h-1zM609 666h1v5h-1zM610 667h1v4h-1zM611 668h1v4h-1zM612 668h1v5h-1zM613 669h1v5h-1zM614 670h1v5h-1zM615 671h1v5h-1zM616 671h1v5h-1zM617 672h1v5h-1zM618 673h1v5h-1zM619 674h1v5h-1zM620 675h1v5h-1zM621 676h1v4h-1zM622 677h1v4h-1zM623 677h1v5h-1zM624 678h1v4h-1zM625 679h1v4h-1zM626 679h1v4h-1zM627 680h1v4h-1zM628 680h1v5h-1zM629 681h1v4h-1zM630 682h1v4h-1zM631 682h1v4h-1zM632 683h1v4h-1zM633 683h1v4h-1zM634 684h1v4h-1zM635 684h1v4h-1zM636 685h1v4h-1zM637 686h1v4h-1zM638 686h1v4h-1zM639 687h1v4h-1zM640 687h1v5h-1zM641 688h1v4h-1zM642 689h1v4h-1zM643 689h1v5h-1zM644 690h1v4h-1zM645 691h1v4h-1zM646 691h1v4h-1zM647 692h1v4h-1zM648 692h1v4h-1zM649 693h1v4h-1zM650 693h1v4h-1zM651 694h1v3h-1zM652 694h1v4h-1zM653 695h1v3h-1zM654 695h1v4h-1zM655 696h1v3h-1zM656 696h1v4h-1zM657 696h1v4h-1zM658 697h1v4h-1zM659 697h1v4h-1zM660 698h1v4h-1zM661 698h1v4h-1zM662 699h1v3h-1zM663 699h1v4h-1zM664 700h1v3h-1zM665 700h1v3h-1zM666 700h1v4h-1zM667 701h1v3h-1zM668 701h1v4h-1zM669 701h1v4h-1zM670 702h1v3h-1zM671 702h1v3h-1zM672 702h1v3h-1zM673 702h1v4h-1zM674 703h1v3h-1zM675 703h1v3h-1zM676 703h1v3h-1zM677 703h1v3h-1zM678 703h1v3h-1zM679 703h1v4h-1zM680 704h1v3h-1zM681 704h1v3h-1zM682 704h1v3h-1zM683 704h1v3h-1zM684 704h1v3h-1zM685 704h1v3h-1zM686 704h1v3h-1zM687 704h1v3h-1zM688 704h1v3h-1zM689 704h1v3h-1zM690 704h1v3h-1zM691 704h1v3h-1zM692 704h1v3h-1zM693 703h1v4h-1zM694 703h1v4h-1zM695 703h1v3h-1zM696 703h1v3h-1zM697 703h1v3h-1zM698 703h1v3h-1zM699 702h1v4h-1zM700 702h1v3h-1zM701 702h1v3h-1zM702 702h1v3h-1zM703 701h1v4h-1zM704 701h1v3h-1zM705 701h1v3h-1zM706 700h1v4h-1zM707 700h1v4h-1zM708 700h1v3h-1zM709 700h1v3h-1zM710 699h1v4h-1zM711 699h1v3h-1zM712 699h1v3h-1zM713 699h1v3h-1zM714 698h1v4h-1zM715 698h1v3h-1zM716 698h1v3h-1zM717 697h1v4h-1zM718 697h1v3h-1zM719 697h1v3h-1zM720 696h1v4h-1zM721 696h1v3h-1zM722 695h1v4h-1zM723 695h1v4h-1zM724 695h1v3h-1zM725 694h1v4h-1zM726 694h1v4h-1zM727 694h1v3h-1zM728 693h1v4h-1zM729 693h1v3h-1zM730 692h1v4h-1zM731 692h1v4h-1zM732 692h1v3h-1zM733 691h1v4h-1zM734 691h1v4h-1zM735 691h1v3h-1zM736 690h1v4h-1zM737 690h1v3h-1zM738 689h1v4h-1zM739 689h1v4h-1zM740 689h1v3h-1zM741 688h1v4h-1zM742 688h1v4h-1zM743 688h1v3h-1zM744 687h1v4h-1zM745 687h1v3h-1zM746 687h1v3h-1zM747 686h1v4h-1zM748 686h1v3h-1zM749 686h1v3h-1zM750 686h1v3h-1zM751 685h1v4h-1zM752 685h1v4h-1zM753 685h1v3h-1zM754 685h1v3h-1zM755 685h1v3h-1zM756 685h1v3h-1zM757 685h1v3h-1zM758 685h1v3h-1zM759 685h1v3h-1zM760 685h1v3h-1zM761 685h1v3h-1zM762 685h1v4h-1zM763 686h1v3h-1zM764 686h1v3h-1zM765 686h1v3h-1zM766 686h1v3h-1zM767 686h1v3h-1zM768 686h1v3h-1zM769 686h1v4h-1zM770 687h1v3h-1zM771 687h1v3h-1zM772 687h1v3h-1zM773 687h1v3h-1zM774 687h1v3h-1zM775 687h1v4h-1zM776 688h1v3h-1zM777 688h1v3h-1zM778 688h1v3h-1zM779 688h1v4h-1zM780 689h1v3h-1zM781 689h1v3h-1zM782 689h1v3h-1zM783 689h1v3h-1zM784 689h1v4h-1zM785 690h1v3h-1zM786 690h1v3h-1zM787 690h1v3h-1zM788 690h1v3h-1zM789 690h1v4h-1zM790 690h1v4h-1zM791 691h1v3h-1zM792 691h1v3h-1zM793 691h1v3h-1zM794 691h1v3h-1zM795 691h1v4h-1zM796 692h1v3h-1zM797 692h1v3h-1zM798 692h1v3h-1zM799 692h1v3h-1zM800 692h1v3h-1zM801 692h1v4h-1zM802 693h1v3h-1zM803 693h1v3h-1zM804 693h1v3h-1zM805 693h1v3h-1zM806 693h1v3h-1zM807 693h1v3h-1zM808 693h1v3h-1zM809 693h1v3h-1zM810 693h1v3h-1zM811 693h1v3h-1zM812 693h1v3h-1zM813 693h1v3h-1zM814 693h1v3h-1zM815 693h1v3h-1zM816 693h1v3h-1zM817 693h1v3h-1zM818 693h1v3h-1zM819 693h1v4h-1zM820 694h1v3h-1zM821 694h1v3h-1zM822 694h1v3h-1zM823 694h1v3h-1zM824 694h1v3h-1zM825 694h1v3h-1zM826 694h1v3h-1zM827 694h1v3h-1zM828 694h1v3h-1zM829 693h1v4h-1zM830 693h1v4h-1zM831 693h1v3h-1zM832 693h1v3h-1zM833 693h1v3h-1zM834 693h1v3h-1zM835 693h1v3h-1zM836 693h1v3h-1zM837 693h1v3h-1zM838 693h1v3h-1zM839 693h1v3h-1zM840 693h1v3h-1zM841 693h1v3h-1zM842 693h1v3h-1zM843 693h1v3h-1zM844 693h1v3h-1zM845 693h1v3h-1zM846 693h1v3h-1zM847 693h1v3h-1zM848 693h1v3h-1zM849 693h1v3h-1zM850 693h1v3h-1zM851 693h1v3h-1zM852 693h1v3h-1zM853 693h1v3h-1zM854 693h1v3h-1zM855 693h1v3h-1zM856 693h1v4h-1zM857 693h1v4h-1zM858 694h1v3h-1zM859 694h1v3h-1zM860 694h1v3h-1zM861 694h1v3h-1zM862 694h1v3h-1zM863 694h1v3h-1zM864 694h1v3h-1zM865 694h1v4h-1zM866 694h1v4h-1zM867 695h1v3h-1zM868 695h1v3h-1zM869 695h1v3h-1zM870 695h1v3h-1zM871 695h1v3h-1zM872 695h1v3h-1zM873 695h1v4h-1zM874 695h1v4h-1zM875 696h1v3h-1zM876 696h1v3h-1zM877 696h1v3h-1zM878 696h1v3h-1zM879 696h1v3h-1zM880 696h1v3h-1zM881 696h1v4h-1zM882 697h1v3h-1zM883 697h1v3h-1zM884 697h1v3h-1zM885 697h1v3h-1zM886 697h1v3h-1zM887 697h1v3h-1zM888 697h1v3h-1zM889 697h1v3h-1zM890 697h1v3h-1zM891 697h1v3h-1zM892 697h1v3h-1zM893 697h1v3h-1zM894 697h1v3h-1zM895 697h1v3h-1zM896 697h1v3h-1zM897 697h1v3h-1zM898 697h1v3h-1zM899 697h1v3h-1zM900 697h1v3h-1zM901 697h1v3h-1zM902 697h1v3h-1zM903 697h1v3h-1zM904 697h1v3h-1zM905 697h1v3h-1zM906 697h1v4h-1zM907 698h1v3h-1zM908 698h1v3h-1zM909 698h1v3h-1zM910 698h1v3h-1zM911 698h1v3h-1zM912 698h1v3h-1zM913 698h1v4h-1zM914 698h1v4h-1zM915 699h1v3h-1zM916 699h1v3h-1zM917 699h1v3h-1zM918 699h1v3h-1zM919 699h1v3h-1zM920 699h1v4h-1zM921 699h1v4h-1zM922 700h1v3h-1zM923 700h1v3h-1zM924 700h1v3h-1zM925 700h1v3h-1zM926 700h1v4h-1zM927 700h1v4h-1zM928 701h1v3h-1zM929 701h1v3h-1zM930 701h1v3h-1zM931 701h1v4h-1zM932 702h1v3h-1zM933 702h1v3h-1zM934 702h1v3h-1zM935 702h1v3h-1zM936 702h1v3h-1zM937 702h1v4h-1zM938 702h1v4h-1zM939 703h1v3h-1zM940 703h1v3h-1zM941 703h1v3h-1zM942 703h1v4h-1zM943 704h1v3h-1zM944 704h1v4h-1zM945 704h1v4h-1zM946 705h1v3h-1zM947 705h1v4h-1zM948 706h1v3h-1zM949 706h1v4h-1zM950 706h1v4h-1zM951 707h1v4h-1zM952 707h1v4h-1zM953 708h1v4h-1zM954 708h1v4h-1zM955 709h1v4h-1zM956 709h1v4h-1zM957 710h1v4h-1zM958 710h1v5h-1zM959 711h1v4h-1zM960 712h1v4h-1zM961 712h1v4h-1zM962 713h1v4h-1zM963 714h1v4h-1zM964 714h1v4h-1zM965 715h1v4h-1zM966 715h1v5h-1zM967 716h1v4h-1zM968 717h1v4h-1zM969 717h1v5h-1zM970 718h1v4h-1zM971 719h1v4h-1zM972 719h1v5h-1zM973 720h1v4h-1zM974 721h1v4h-1zM975 721h1v4h-1zM976 722h1v4h-1zM977 723h1v4h-1zM978 723h1v4h-1zM979 724h1v4h-1zM980 724h1v4h-1zM981 725h1v3h-1zM982 725h1v4h-1zM983 726h1v3h-1zM984 726h1v3h-1zM985 726h1v4h-1zM986 726h1v4h-1zM987 727h1v3h-1zM988 727h1v4h-1zM989 727h1v4h-1zM990 728h1v4h-1zM991 728h1v4h-1zM992 729h1v3h-1zM993 729h1v4h-1zM994 730h1v3h-1zM995 730h1v4h-1zM996 730h1v4h-1zM997 731h1v4h-1zM998 731h1v4h-1zM999 732h1v3h-1zM1000 732h1v4h-1zM1001 733h1v3h-1zM1002 733h1v4h-1zM1003 733h1v4h-1zM1004 734h1v4h-1zM1005 734h1v4h-1zM1006 735h1v3h-1zM1007 735h1v3h-1zM1008 735h1v4h-1zM1009 735h1v4h-1zM1010 736h1v3h-1zM1011 736h1v3h-1zM1012 736h1v4h-1zM1013 736h1v4h-1zM1014 737h1v3h-1zM1015 737h1v3h-1zM1016 737h1v4h-1zM1017 737h1v4h-1zM1018 738h1v3h-1zM1019 738h1v3h-1zM1020 738h1v4h-1zM1021 738h1v4h-1zM1022 739h1v3h-1zM1023 739h1v3h-1zM1024 739h1v3h-1zM1025 739h1v4h-1zM1026 740h1v3h-1zM1027 740h1v3h-1zM1028 740h1v3h-1zM1029 740h1v4h-1zM1030 741h1v3h-1zM1031 741h1v3h-1zM1032 741h1v4h-1zM1033 741h1v4h-1zM1034 742h1v3h-1zM1035 742h1v3h-1zM1036 742h1v4h-1zM1037 742h1v4h-1zM1038 743h1v3h-1zM1039 743h1v3h-1zM1040 743h1v4h-1zM1041 744h1v3h-1zM1042 744h1v3h-1zM1043 744h1v4h-1zM1044 745h1v3h-1zM1045 745h1v3h-1zM1046 745h1v4h-1zM1047 746h1v3h-1zM1048 746h1v4h-1zM1049 746h1v4h-1zM1050 747h1v3h-1zM1051 747h1v4h-1zM1052 748h1v3h-1zM1053 748h1v3h-1zM1054 748h1v4h-1zM1055 748h1v4h-1zM1056 749h1v3h-1zM1057 749h1v3h-1zM1058 749h1v4h-1zM1059 749h1v4h-1zM1060 750h1v3h-1zM1061 750h1v3h-1zM1062 750h1v4h-1zM1063 750h1v4h-1zM1064 751h1v3h-1zM1065 751h1v3h-1zM1066 751h1v3h-1zM1067 751h1v4h-1zM1068 752h1v3h-1zM1069 752h1v3h-1zM1070 752h1v3h-1zM1071 752h1v3h-1zM1072 752h1v3h-1zM1073 752h1v3h-1zM1074 752h1v4h-1zM1075 752h1v4h-1zM1076 753h1v3h-1zM1077 753h1v3h-1zM1078 753h1v3h-1zM1079 753h1v3h-1zM1080 753h1v3h-1zM1081 753h1v3h-1zM1082 753h1v3h-1zM1083 753h1v3h-1zM1084 753h1v3h-1zM1085 753h1v3h-1zM1086 753h1v3h-1zM1087 753h1v3h-1zM1088 753h1v3h-1zM1089 753h1v3h-1zM1090 753h1v3h-1zM1091 753h1v3h-1zM1092 753h1v3h-1zM1093 753h1v3h-1zM1094 752h1v4h-1zM1095 752h1v4h-1zM1096 752h1v3h-1zM1097 752h1v3h-1zM1098 752h1v3h-1zM1099 752h1v3h-1zM1100 752h1v3h-1zM1101 752h1v3h-1zM1102 751h1v4h-1zM1103 751h1v3h-1zM1104 751h1v3h-1zM1105 751h1v3h-1zM1106 750h1v4h-1zM1107 750h1v4h-1zM1108 750h1v3h-1zM1109 750h1v3h-1zM1110 749h1v4h-1zM1111 749h1v3h-1zM1112 749h1v3h-1zM1113 748h1v4h-1zM1114 748h1v3h-1zM1115 748h1v3h-1zM1116 747h1v4h-1zM1117 746h1v5h-1zM1118 746h1v4h-1zM1119 745h1v4h-1zM1120 744h1v5h-1zM1121 743h1v5h-1zM1122 743h1v4h-1zM1123 742h1v4h-1zM1124 741h1v5h-1zM1125 740h1v5h-1zM1126 739h1v5h-1zM1127 738h1v5h-1zM1128 738h1v4h-1zM1129 737h1v5h-1zM1130 736h1v5h-1zM1131 735h1v5h-1zM1132 734h1v5h-1zM1133 734h1v4h-1zM1134 733h1v4h-1zM1135 732h1v5h-1zM1136 731h1v5h-1zM1137 731h1v4h-1zM1138 730h1v4h-1zM1139 729h1v5h-1zM1140 728h1v5h-1zM1141 727h1v5h-1zM1142 727h1v4h-1zM1143 726h1v5h-1zM1144 725h1v5h-1zM1145 724h1v5h-1zM1146 723h1v5h-1zM1147 722h1v5h-1zM1148 722h1v4h-1zM1149 721h1v4h-1zM1150 721h1v4h-1zM1151 720h1v4h-1zM1152 720h1v4h-1zM1153 719h1v4h-1zM1154 718h1v4h-1zM1155 718h1v4h-1zM1156 717h1v4h-1zM1157 717h1v4h-1zM1158 716h1v4h-1zM1159 716h1v4h-1zM1160 715h1v4h-1zM1161 715h1v4h-1zM1162 714h1v4h-1zM1163 714h1v4h-1zM1164 713h1v4h-1zM1165 713h1v4h-1zM1166 713h1v3h-1zM1167 713h1v3h-1zM1168 713h1v3h-1zM1169 712h1v4h-1zM1170 712h1v4h-1zM1171 712h1v3h-1zM1172 712h1v3h-1zM1173 712h1v3h-1zM1174 712h1v3h-1zM1175 712h1v3h-1zM1176 712h1v3h-1zM1177 712h1v3h-1zM1178 712h1v3h-1zM1179 712h1v3h-1zM1180 712h1v3h-1zM1181 712h1v3h-1z" fill="#ff0000" shape-rendering="crispEdges" clip-path="url(#cs)"/>
<g shape-rendering="crispEdges" fill="#000">
<rect x="4" y="4" width="1494" height="1"/>
<rect x="4" y="624" width="1494" height="1"/>
<rect x="4" y="4" width="1" height="621"/>
<rect x="1497" y="4" width="1" height="621"/>
<rect x="4" y="626" width="1494" height="1"/>
<rect x="4" y="774" width="1494" height="1"/>
<rect x="4" y="626" width="1" height="149"/>
<rect x="1497" y="626" width="1" height="149"/>
<rect x="1498" y="69" width="2" height="1"/>
<rect x="1498" y="134" width="2" height="1"/>
<rect x="1498" y="199" width="2" height="1"/>
<rect x="1498" y="264" width="2" height="1"/>
<rect x="1498" y="329" width="2" height="1"/>
<rect x="1498" y="394" width="2" height="1"/>
<rect x="1498" y="459" width="2" height="1"/>
<rect x="1498" y="524" width="2" height="1"/>
<rect x="1498" y="589" width="2" height="1"/>
<rect x="1498" y="627" width="2" height="1"/>
<rect x="1498" y="737" width="2" height="1"/>
<rect x="1498" y="773" width="2" height="1"/>
<rect x="5" y="775" width="1" height="3"/>
<rect x="133" y="775" width="1" height="3"/>
<rect x="261" y="775" width="1" height="3"/>
<rect x="389" y="775" width="1" height="3"/>
<rect x="517" y="775" width="1" height="3"/>
<rect x="645" y="775" width="1" height="3"/>
<rect x="773" y="775" width="1" height="3"/>
<rect x="901" y="775" width="1" height="3"/>
<rect x="1029" y="775" width="1" height="3"/>
<rect x="1157" y="775" width="1" height="3"/>
</g>
<g shape-rendering="crispEdges">
<rect x="0" y="0" width="1570" height="1" fill="#a0a0a0"/>
<rect x="0" y="0" width="1" height="802" fill="#a0a0a0"/>
<rect x="1" y="1" width="1568" height="1" fill="#696969"/>
<rect x="1" y="1" width="1" height="800" fill="#696969"/>
<rect x="1569" y="1" width="1" height="801" fill="#e3e3e3"/>
<rect x="1" y="801" width="1569" height="1" fill="#e3e3e3"/>
</g>
<g font-family="Liberation Sans, sans-serif" font-size="14" fill="#000">
<path d="M8 12 L19 12 L13.5 18 Z" fill="#000"/>
<text x="25.5" y="21" textLength="78" lengthAdjust="spacingAndGlyphs">XAUUSD-,H4</text>
<text x="112.5" y="21" textLength="51.3" lengthAdjust="spacingAndGlyphs">1915.18</text>
<text x="168.2" y="21" textLength="51.3" lengthAdjust="spacingAndGlyphs">1918.51</text>
<text x="224.8" y="21" textLength="51.3" lengthAdjust="spacingAndGlyphs">1913.90</text>
<text x="280.5" y="21" textLength="51.3" lengthAdjust="spacingAndGlyphs">1916.65</text>
<text x="9" y="644" textLength="36.5" lengthAdjust="spacingAndGlyphs">MACD</text>
<text x="46" y="644" textLength="57" lengthAdjust="spacingAndGlyphs">(12,26,9)</text>
<text x="107.8" y="644" textLength="41" lengthAdjust="spacingAndGlyphs">-0.526</text>
<text x="153" y="644" textLength="35.6" lengthAdjust="spacingAndGlyphs">3.158</text>
<text x="1504.5" y="75" textLength="51.3" lengthAdjust="spacingAndGlyphs">1950.20</text>
<text x="1504.5" y="140" textLength="51.3" lengthAdjust="spacingAndGlyphs">1932.95</text>
<text x="1504.5" y="205" textLength="51.3" lengthAdjust="spacingAndGlyphs">1915.70</text>
<text x="1504.5" y="270" textLength="51.3" lengthAdjust="spacingAndGlyphs">1897.95</text>
<text x="1504.5" y="335" textLength="51.3" lengthAdjust="spacingAndGlyphs">1880.45</text>
<text x="1504.5" y="400" textLength="51.3" lengthAdjust="spacingAndGlyphs">1862.95</text>
<text x="1504.5" y="465" textLength="51.3" lengthAdjust="spacingAndGlyphs">1845.45</text>
<text x="1504.5" y="530" textLength="51.3" lengthAdjust="spacingAndGlyphs">1827.95</text>
<text x="1504.5" y="595" textLength="51.3" lengthAdjust="spacingAndGlyphs">1810.45</text>
<text x="1501" y="642" textLength="43.5" lengthAdjust="spacingAndGlyphs">14.784</text>
<text x="1501" y="743">0.00</text>
<text x="1501" y="770" textLength="41.3" lengthAdjust="spacingAndGlyphs">-4.964</text>
<text x="4" y="792">29 Dec 2022</text>
<text x="132" y="792">4 Jan 04:00</text>
<text x="260" y="792">8 Jan 23:00</text>
<text x="388" y="792">11 Jan 12:00</text>
<text x="516" y="792">16 Jan 04:00</text>
<text x="644" y="792">18 Jan 20:00</text>
<text x="772" y="792">23 Jan 12:00</text>
<text x="900" y="792">26 Jan 04:00</text>
<text x="1028" y="792">30 Jan 20:00</text>
<text x="1156" y="792">2 Feb 12:00</text>
</g>
<g shape-rendering="crispEdges">
<rect x="1499" y="186" width="62" height="17" fill="#000"/>
<rect x="1499" y="250" width="62" height="17" fill="#000"/>
</g>
<g font-family="Liberation Sans, sans-serif" font-size="14" fill="#fff">
<text x="1504.5" y="200" textLength="51.3" lengthAdjust="spacingAndGlyphs">1916.65</text>
<text x="1504.5" y="264" textLength="51.3" lengthAdjust="spacingAndGlyphs">1900.00</text>
</g>
<path d="M1189.5 5 L1205.5 5 L1197.5 13 Z" fill="#778899"/>
<line x1="1176.8" y1="257.3" x2="1288.5" y2="28.4" stroke="#ff0000" stroke-width="6.5" stroke-linecap="round"/>
<path d="M1277.9 23.2 L1299 33.6 L1303.2 -1.5 Z" fill="#ff0000"/>
</svg></body></html>
